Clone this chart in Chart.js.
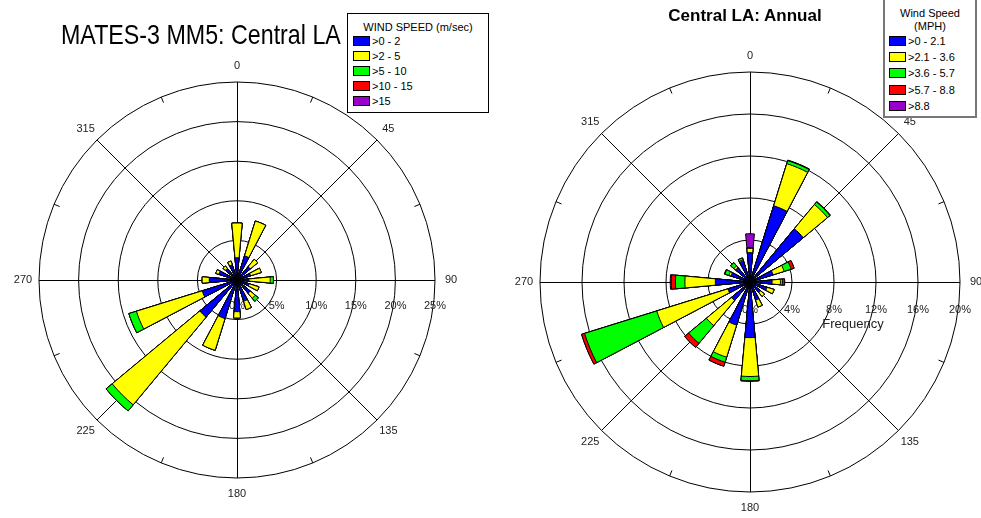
<!DOCTYPE html>
<html>
<head>
<meta charset="utf-8">
<title>Wind roses: Central LA</title>
<script src="https://cdn.jsdelivr.net/npm/chart.js@4.4.0/dist/chart.umd.min.js"></script>
<style>
  body { margin: 0; background: #fff; font-family: "Liberation Sans", Arial, sans-serif; color: #000; }
  #wrap { position: relative; width: 981px; height: 518px; overflow: hidden; background: #fff; }
  canvas { position: absolute; top: 0; }
  #roseLeft { left: 0; }
  #roseRight { left: 490px; }
  .title { position: absolute; white-space: nowrap; line-height: 1; }
  #titleLeft { left: 61px; top: 21px; font-size: 28px; transform-origin: left top; transform: scaleX(0.83); }
  #titleRight { left: 645px; top: 7px; width: 200px; text-align: center; font-size: 17px; font-weight: bold; }
  .legend { position: absolute; background: #fff; font-size: 11px; z-index: 2; }
  #legendLeft { left: 347px; top: 13px; width: 140px; height: 98px; border: 1px solid #000; }
  #legendRight { left: 883px; top: -2px; width: 90px; height: 116px; border: 2px solid #777; }
  .legend .head { position: absolute; left: 0; right: 0; text-align: center; line-height: 13px; }
  .legend .row { position: absolute; height: 15px; display: flex; align-items: center; white-space: nowrap; }
  .legend .swatch { width: 15px; height: 8px; border: 1px solid #000; margin-right: 2px; }
</style>
</head>
<body>
<div id="wrap">
  <canvas id="roseLeft" width="490" height="518"></canvas>
  <canvas id="roseRight" width="491" height="518"></canvas>
  <div class="title" id="titleLeft">MATES-3 MM5: Central LA</div>
  <div class="title" id="titleRight">Central LA: Annual</div>
  <div class="legend" id="legendLeft"></div>
  <div class="legend" id="legendRight"></div>
</div>
<script>
// Wind directions (degrees from north), 16 sectors
const directions = [0, 22.5, 45, 67.5, 90, 112.5, 135, 157.5, 180, 202.5, 225, 247.5, 270, 292.5, 315, 337.5];
const dirLabels = ['0', '45', '90', '135', '180', '225', '270', '315'];
const binColors = ['#0000ff', '#ffff00', '#00ff00', '#ff0000', '#9900cc'];

// Left rose: MATES-3 MM5, frequency (%) per speed class
const leftBins = ['>0 - 2', '>2 - 5', '>5 - 10', '>10 - 15', '>15'];
const leftBlue   = [2.8, 3.2, 2.2, 1.8, 1.5, 1.6, 2.2, 2.8, 4.0, 5.1, 6.1, 4.6, 3.5, 2.4, 1.9, 2.0];
const leftYellow = [4.4, 4.6, 1.2, 1.4, 2.7, 1.3, 0.8, 1.1, 0.8, 4.2, 14.4, 8.7, 0.9, 0.4, 0.4, 0.5];
const leftGreen  = [0, 0, 0, 0, 0.4, 0, 0.5, 0, 0, 0, 1.0, 1.0, 0, 0, 0, 0];
const leftRed    = [0, 0, 0, 0, 0, 0, 0, 0, 0, 0, 0, 0, 0, 0, 0, 0];
const leftPurple = [0, 0, 0, 0, 0, 0, 0, 0, 0, 0, 0, 0, 0, 0, 0, 0];
const leftTicks = { max: 25, step: 5 };

// Right rose: Central LA annual, frequency (%) per speed class
const rightBins = ['>0 - 2.1', '>2.1 - 3.6', '>3.6 - 5.7', '>5.7 - 8.8', '>8.8'];
const rightBlue   = [2.8, 7.6, 6.6, 2.3, 2.1, 1.7, 1.3, 1.8, 5.3, 4.3, 2.3, 2.2, 3.3, 1.9, 1.8, 2.1];
const rightYellow = [0.4, 4.2, 3.0, 1.1, 0.8, 0.7, 0.5, 0.7, 3.7, 3.2, 3.1, 7.1, 2.9, 0.2, 0.2, 0.1];
const rightGreen  = [0.05, 0.3, 0.3, 0.7, 0.2, 0, 0, 0, 0.4, 0.5, 2.2, 7.2, 0.9, 0.4, 0.4, 0.2];
const rightRed    = [0.05, 0.05, 0.05, 0.3, 0.2, 0, 0, 0, 0.05, 0.4, 0.5, 0.3, 0.4, 0.05, 0, 0];
const rightPurple = [1.3, 0, 0, 0, 0, 0, 0, 0, 0, 0, 0, 0, 0.1, 0, 0, 0];
const rightTicks = { max: 20, step: 4 };

const WEDGE = 10.5;                       // angular width of each petal
const SECTOR = 360 / directions.length;   // 22.5

Chart.defaults.font.family = '"Liberation Sans", Arial, sans-serif';

// Build stacked petals: one dataset per speed class holding cumulative values,
// with an empty slice between petals so each petal is narrower than its sector
function buildDatasets(series) {
  const running = directions.map(() => 0);
  return series.map((vals, k) => {
    const data = [];
    directions.forEach((d, i) => {
      running[i] += vals[i];
      data.push(+running[i].toFixed(3), 0);
    });
    return {
      data: data,
      backgroundColor: binColors[k],
      borderColor: '#000',
      borderWidth: ctx => (ctx.dataIndex % 2 === 0 ? 1 : 0),
      angle: ctx => (ctx.dataIndex % 2 === 0 ? WEDGE : SECTOR - WEDGE)
    };
  });
}

// Spokes, rim ticks and % labels under the petals; compass labels on top
const roseFrame = {
  id: 'roseFrame',
  beforeDatasetsDraw(chart, args, opts) {
    const r = chart.scales.r;
    const ctx = chart.ctx;
    const cx = r.xCenter, cy = r.yCenter, R = r.drawingArea;
    ctx.save();
    ctx.strokeStyle = '#000';
    ctx.lineWidth = 1;
    for (let a = 0; a < 360; a += 45) {
      const t = a * Math.PI / 180;
      const ox = (a % 180 === 0) ? 0.5 : 0;
      const oy = (a % 180 === 90) ? 0.5 : 0;
      ctx.beginPath();
      ctx.moveTo(cx + ox, cy + oy);
      ctx.lineTo(cx + ox + R * Math.sin(t), cy + oy - R * Math.cos(t));
      ctx.stroke();
    }
    for (let a = 22.5; a < 360; a += 45) {
      const t = a * Math.PI / 180;
      ctx.beginPath();
      ctx.moveTo(cx + R * Math.sin(t), cy - R * Math.cos(t));
      ctx.lineTo(cx + (R - 6) * Math.sin(t), cy - (R - 6) * Math.cos(t));
      ctx.stroke();
    }
    ctx.fillStyle = '#222';
    ctx.font = '11px "Liberation Sans", Arial, sans-serif';
    ctx.textAlign = 'center';
    ctx.textBaseline = 'middle';
    r.ticks.forEach(tk => {
      const x = cx + r.getDistanceFromCenterForValue(tk.value);
      ctx.fillText(tk.value + '%', x, cy + opts.labelDy);
    });
    if (opts.axisTitle) {
      ctx.font = '13px "Liberation Sans", Arial, sans-serif';
      ctx.fillText(opts.axisTitle, cx + opts.axisTitleDx, cy + opts.axisTitleDy);
    }
    ctx.restore();
  },
  afterDraw(chart) {
    const r = chart.scales.r;
    const ctx = chart.ctx;
    const cx = r.xCenter, cy = r.yCenter, R = r.drawingArea + 16;
    ctx.save();
    ctx.fillStyle = '#222';
    ctx.font = '11px "Liberation Sans", Arial, sans-serif';
    ctx.textAlign = 'center';
    ctx.textBaseline = 'middle';
    dirLabels.forEach(lbl => {
      const t = (+lbl) * Math.PI / 180;
      ctx.fillText(lbl, cx + R * Math.sin(t), cy - R * Math.cos(t));
    });
    ctx.restore();
  }
};

function makeRose(canvasId, series, ticks, padding, frameOpts) {
  const labels = [];
  directions.forEach(d => labels.push(String(d), ''));
  return new Chart(document.getElementById(canvasId), {
    type: 'polarArea',
    data: { labels: labels, datasets: buildDatasets(series) },
    options: {
      responsive: false,
      animation: false,
      layout: { padding: padding },
      scales: {
        r: {
          min: 0,
          max: ticks.max,
          startAngle: -WEDGE / 2,
          ticks: { display: false, stepSize: ticks.step },
          grid: { circular: true, color: '#000', lineWidth: 1 },
          angleLines: { display: false },
          pointLabels: { display: false }
        }
      },
      plugins: {
        legend: { display: false },
        tooltip: { enabled: false },
        roseFrame: frameOpts
      }
    },
    plugins: [roseFrame]
  });
}

makeRose('roseLeft',
  [leftBlue, leftYellow, leftGreen, leftRed, leftPurple],
  leftTicks,
  { left: 39, top: 82, right: 55, bottom: 40 },
  { labelDy: 26 });

makeRose('roseRight',
  [rightBlue, rightYellow, rightGreen, rightRed, rightPurple],
  rightTicks,
  { left: 50, top: 72, right: 21, bottom: 26 },
  { labelDy: 28, axisTitle: 'Frequency', axisTitleDx: 103, axisTitleDy: 42 });

// HTML legends built from the bin labels and colours
function buildLegend(id, heads, bins, cfg) {
  const box = document.getElementById(id);
  heads.forEach((h, i) => {
    const el = document.createElement('div');
    el.className = 'head';
    el.style.top = (cfg.headTop + i * 13) + 'px';
    el.textContent = h;
    box.appendChild(el);
  });
  bins.forEach((b, i) => {
    const row = document.createElement('div');
    row.className = 'row';
    row.style.left = cfg.rowLeft + 'px';
    row.style.top = (cfg.rowTop + i * cfg.rowStep) + 'px';
    const sw = document.createElement('div');
    sw.className = 'swatch';
    sw.style.background = binColors[i];
    const tx = document.createElement('span');
    tx.textContent = b;
    row.appendChild(sw);
    row.appendChild(tx);
    box.appendChild(row);
  });
}

buildLegend('legendLeft', ['WIND SPEED (m/sec)'], leftBins,
  { headTop: 7, rowLeft: 5, rowTop: 19.5, rowStep: 15.1 });
buildLegend('legendRight', ['Wind Speed', '(MPH)'], rightBins,
  { headTop: 7, rowLeft: 4, rowTop: 33.5, rowStep: 16.2 });
</script>
</body>
</html>
